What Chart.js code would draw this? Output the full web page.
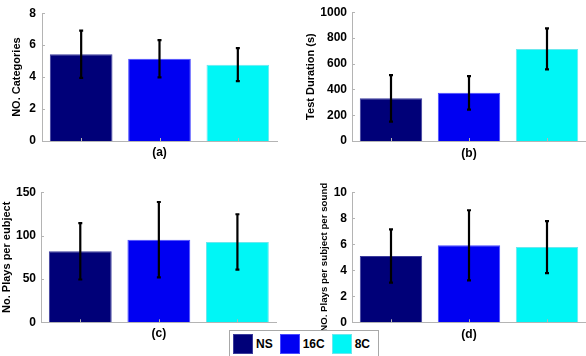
<!DOCTYPE html>
<html>
<head>
<meta charset="utf-8">
<script src="https://cdn.jsdelivr.net/npm/chart.js@4.4.0/dist/chart.umd.min.js"></script>
<style>
  body { margin: 0; background: #fff; }
  #wrap { position: relative; width: 586px; height: 356px; overflow: hidden; }
  #wrap canvas { position: absolute; }
  #legend {
    position: absolute; left: 229px; top: 330px; width: 150px; height: 40px;
    box-sizing: border-box; border: 1px solid #a8a8a8; background: #fff;
    display: flex; align-items: flex-start; padding: 3px 0 0 3px;
    font: bold 12px 'Liberation Sans', Arial, sans-serif; color: #000;
  }
  #legend .sw { width: 20px; height: 20px; box-sizing: border-box; margin-right: 3px; }
  #legend .lb { line-height: 20px; margin-right: 7px; }
</style>
</head>
<body>
<div id="wrap">
  <canvas id="chartA" width="293" height="170" style="left:0;top:0"></canvas>
  <canvas id="chartB" width="293" height="170" style="left:293px;top:0"></canvas>
  <canvas id="chartC" width="293" height="186" style="left:0;top:170px"></canvas>
  <canvas id="chartD" width="293" height="186" style="left:293px;top:170px"></canvas>
  <div id="legend"></div>
</div>
<script>
// groups shown in every panel
const groups = ["NS", "16C", "8C"];
const groupColors = ["#000078", "#0000f2", "#00f6f6"];
const groupEdges = ["#3c3c9c", "#4a4aff", "#6ae8ee"];

// (a) number of categories
const categoriesMean = [5.43, 5.15, 4.78];
const categoriesErr = [1.48, 1.17, 1.03];

// (b) test duration in seconds
const durationMean = [331, 374, 715];
const durationErr = [180, 130, 159];

// (c) plays per subject
const playsMean = [81.9, 95.3, 92.7];
const playsErr = [32.5, 43.5, 32];

// (d) plays per subject per sound
const playsSoundMean = [5.1, 5.92, 5.79];
const playsSoundErr = [2.05, 2.7, 2.0];

const FONT = "'Liberation Sans', Arial, sans-serif";
const AXIS_GREY = "#b4b4b4";

// vertical error bars drawn on top of the bars
const errorBars = {
    id: "errorBars",
    afterDatasetsDraw(chart) {
        const ctx = chart.ctx;
        const y = chart.scales.y;
        const ds = chart.data.datasets[0];
        const meta = chart.getDatasetMeta(0);
        ctx.save();
        ctx.strokeStyle = "#000";
        ctx.lineWidth = 2.2;
        meta.data.forEach((bar, i) => {
            const top = y.getPixelForValue(ds.data[i] + ds.errors[i]);
            const bot = y.getPixelForValue(ds.data[i] - ds.errors[i]);
            ctx.beginPath();
            ctx.moveTo(bar.x, top); ctx.lineTo(bar.x, bot);
            ctx.moveTo(bar.x - 2, top); ctx.lineTo(bar.x + 2, top);
            ctx.moveTo(bar.x - 2, bot); ctx.lineTo(bar.x + 2, bot);
            ctx.stroke();
        });
        ctx.restore();
    }
};

// small inward tick marks like matlab axes
const inwardTicks = {
    id: "inwardTicks",
    afterDraw(chart) {
        const { ctx, chartArea: a, scales } = chart;
        ctx.save();
        ctx.strokeStyle = AXIS_GREY;
        ctx.lineWidth = 1;
        ctx.beginPath();
        scales.y.ticks.forEach((t, i) => {
            const py = Math.round(scales.y.getPixelForTick(i)) + 0.5;
            ctx.moveTo(a.left, py); ctx.lineTo(a.left + 3, py);
        });
        scales.x.ticks.forEach((t, i) => {
            const px = Math.round(scales.x.getPixelForTick(i)) + 0.5;
            ctx.moveTo(px, a.bottom); ctx.lineTo(px, a.bottom - 3);
        });
        ctx.stroke();
        ctx.restore();
    }
};

function renderPanel(canvasId, means, errs, p) {
    const ctx = document.getElementById(canvasId).getContext("2d");
    return new Chart(ctx, {
        type: "bar",
        data: {
            labels: groups,
            datasets: [{
                data: means,
                errors: errs,
                backgroundColor: groupColors,
                borderColor: groupEdges,
                borderWidth: 1,
                barPercentage: 0.8,
                categoryPercentage: 1.0
            }]
        },
        options: {
            responsive: false,
            animation: false,
            layout: { padding: { top: p.padTop, right: p.padRight, left: 0, bottom: 0 } },
            plugins: { legend: { display: false }, tooltip: { enabled: false } },
            scales: {
                x: {
                    grid: { display: false },
                    border: { display: true, color: AXIS_GREY, width: 1 },
                    ticks: { display: false },
                    title: {
                        display: true, text: p.xTitle, color: "#000",
                        font: { family: FONT, size: 12, weight: "bold" },
                        padding: { top: 0, bottom: p.xTitlePad }
                    },
                    afterFit: s => { s.height = p.xHeight; }
                },
                y: {
                    min: 0, max: p.max,
                    grid: { display: false, drawTicks: false },
                    border: { display: true, color: AXIS_GREY, width: 1 },
                    ticks: {
                        stepSize: p.step, padding: p.tickPad, color: "#000",
                        font: { family: FONT, size: 12, weight: "bold" },
                        callback: v => String(v)
                    },
                    title: {
                        display: true, text: p.yTitle, color: "#000",
                        font: { family: FONT, size: p.yTitleSize, weight: "bold" },
                        padding: { top: p.yTitlePad, bottom: 0 }
                    },
                    afterFit: s => { s.width = p.yWidth; }
                }
            }
        },
        plugins: [errorBars, inwardTicks]
    });
}

renderPanel("chartA", categoriesMean, categoriesErr, {
    padTop: 11, padRight: 16, yWidth: 42, xHeight: 29, max: 8, step: 2, tickPad: 6,
    yTitle: "NO. Categories", yTitleSize: 11, yTitlePad: 10, xTitle: "(a)", xTitlePad: 10
});
renderPanel("chartB", durationMean, durationErr, {
    padTop: 11, padRight: 0, yWidth: 59, xHeight: 29, max: 1000, step: 200, tickPad: 5,
    yTitle: "Test Duration (s)", yTitleSize: 11, yTitlePad: 11.7, xTitle: "(b)", xTitlePad: 9.5
});
renderPanel("chartC", playsMean, playsErr, {
    padTop: 22.3, padRight: 16.3, yWidth: 41, xHeight: 33.7, max: 150, step: 50, tickPad: 5,
    yTitle: "No. Plays per eubject", yTitleSize: 11, yTitlePad: 0.7, xTitle: "(c)", xTitlePad: 14.8
});
renderPanel("chartD", playsSoundMean, playsSoundErr, {
    padTop: 22.3, padRight: 0, yWidth: 59, xHeight: 33.7, max: 10, step: 2, tickPad: 5,
    yTitle: "NO. Plays per subject per sound", yTitleSize: 9.7, yTitlePad: 25.2, xTitle: "(d)", xTitlePad: 14.3
});

// shared legend under the panels
const legend = document.getElementById("legend");
groups.forEach((g, i) => {
    const sw = document.createElement("span");
    sw.className = "sw";
    sw.style.background = groupColors[i];
    sw.style.border = "1px solid " + groupEdges[i];
    const lb = document.createElement("span");
    lb.className = "lb";
    lb.textContent = g;
    legend.appendChild(sw);
    legend.appendChild(lb);
});
</script>
</body>
</html>
